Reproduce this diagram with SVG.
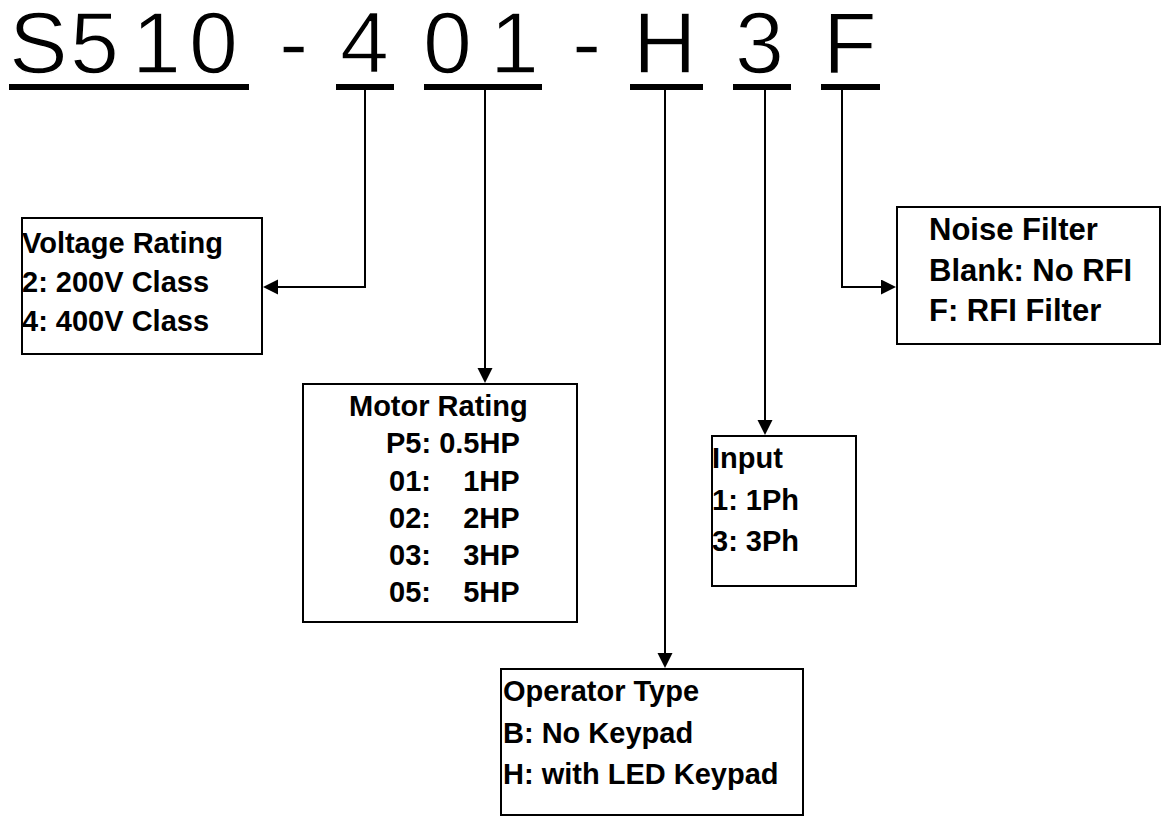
<svg xmlns="http://www.w3.org/2000/svg" width="1166" height="819" viewBox="0 0 1166 819">
<style>
.code{font-family:"Liberation Sans",Arial,sans-serif;font-size:88px;fill:#000;stroke:#fff;stroke-width:1.4}
.ul{fill:#000}
.box{fill:#fff;stroke:#000;stroke-width:2}
.t{font-family:"Liberation Sans",Arial,sans-serif;font-size:29px;font-weight:bold;fill:#000}
.n{font-size:31px}
.c{fill:none;stroke:#000;stroke-width:2}
</style>
<defs>
<marker id="arr" markerUnits="userSpaceOnUse" markerWidth="16" markerHeight="16" refX="1" refY="7.5" orient="auto">
<path d="M0,0 L15,7.5 L0,15 z" fill="#000"/>
</marker>
</defs>
<rect width="1166" height="819" fill="#fff"/>
<g id="code">
<text class="code" x="9 70 132 189" y="73">S510</text>
<text class="code" x="279" y="73">-</text>
<text class="code" x="340" y="73">4</text>
<text class="code" x="423 490" y="73">01</text>
<text class="code" x="572" y="73">-</text>
<text class="code" x="633" y="73">H</text>
<text class="code" x="735" y="73">3</text>
<text class="code" x="823" y="73">F</text>
<rect class="ul" x="9" y="84" width="240" height="6"/>
<rect class="ul" x="336" y="84" width="58" height="6"/>
<rect class="ul" x="424" y="84" width="118" height="6"/>
<rect class="ul" x="630" y="84" width="73" height="6"/>
<rect class="ul" x="733" y="84" width="58" height="6"/>
<rect class="ul" x="821" y="84" width="59" height="6"/>
</g>
<g id="connectors">
<path class="c" d="M365,90 V287 H277" marker-end="url(#arr)"/>
<path class="c" d="M485,90 V369" marker-end="url(#arr)"/>
<path class="c" d="M665,90 V654" marker-end="url(#arr)"/>
<path class="c" d="M765,90 V421" marker-end="url(#arr)"/>
<path class="c" d="M842,90 V287 H882" marker-end="url(#arr)"/>
</g>
<g id="voltage">
<rect class="box" x="22" y="218" width="240" height="136"/>
<text class="t" x="22" y="253">Voltage Rating</text>
<text class="t" x="22" y="292">2: 200V Class</text>
<text class="t" x="22" y="331">4: 400V Class</text>
</g>
<g id="noise">
<rect class="box" x="897" y="207" width="263" height="137"/>
<text class="t n" x="929" y="240">Noise Filter</text>
<text class="t n" x="929" y="281">Blank: No RFI</text>
<text class="t n" x="929" y="321">F: RFI Filter</text>
</g>
<g id="motor">
<rect class="box" x="303" y="384" width="274" height="238"/>
<text class="t" x="349" y="416">Motor Rating</text>
<text class="t" x="386" y="453">P5: 0.5HP</text>
<text class="t" x="389" y="491" xml:space="preserve">01:    1HP</text>
<text class="t" x="389" y="528" xml:space="preserve">02:    2HP</text>
<text class="t" x="389" y="565" xml:space="preserve">03:    3HP</text>
<text class="t" x="389" y="602" xml:space="preserve">05:    5HP</text>
</g>
<g id="input">
<rect class="box" x="712" y="436" width="144" height="150"/>
<text class="t" x="712" y="468">Input</text>
<text class="t" x="712" y="510">1: 1Ph</text>
<text class="t" x="712" y="551">3: 3Ph</text>
</g>
<g id="operator">
<rect class="box" x="501" y="669" width="302" height="146"/>
<text class="t" x="503" y="701">Operator Type</text>
<text class="t" x="503" y="743">B: No Keypad</text>
<text class="t" x="503" y="784">H: with LED Keypad</text>
</g>
</svg>
